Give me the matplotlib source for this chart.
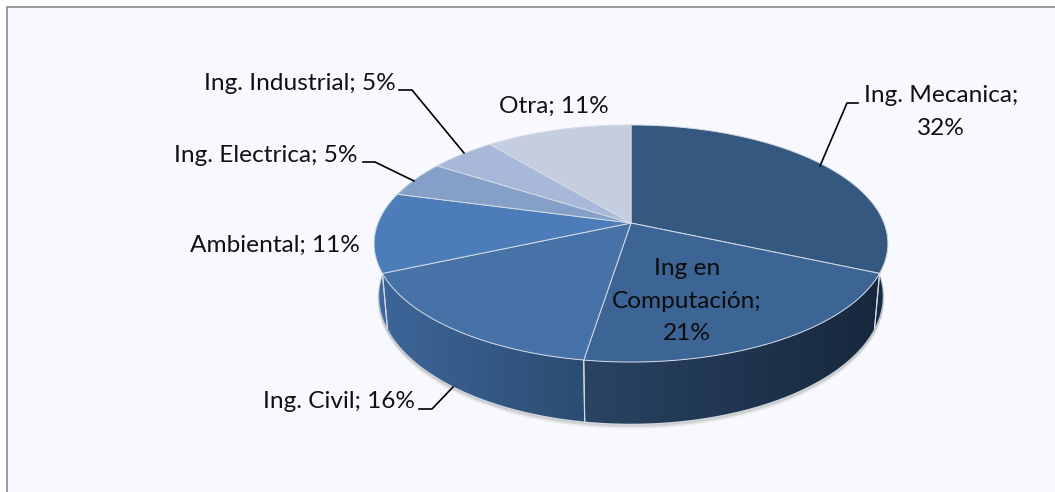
import matplotlib
matplotlib.use('Agg')
import matplotlib.pyplot as plt
import numpy as np
from matplotlib.colors import LinearSegmentedColormap
from matplotlib.patches import Polygon

labels = ['Ing. Mecanica', 'Ing en Computación', 'Ing. Civil', 'Ambiental',
          'Ing. Electrica', 'Ing. Industrial', 'Otra']
values = [32, 21, 16, 11, 5, 5, 11]
top_colors = ['#34587f', '#3c6596', '#4672a8', '#4c7db8', '#84a0c8', '#a8b8d8', '#c5cee0']
# colores de la pared lateral, izquierda -> derecha
wall_colors = [('#14263a', '#1b3048'), ('#2a4464', '#16283c'), ('#3d6699', '#2c4c72'),
               ('#3f6ba1', '#3d6699'), None, None, None]

# geometria de la torta en pixeles
CX, CY = 631, 223
A, B, P = 253, 115, 0.173
DEPTH = 51
SHRINK = 0.98
BG = '#f8f9fe'
EDGE = '#d3dae5'


def top_point(t):
    u, v = np.sin(t), np.cos(t)
    s = 1 / (1 + P * v)
    return CX + A * u * s, CY - B * v * s


def bottom_point(t):
    u, v = np.sin(t), np.cos(t)
    s = 1 / (1 + P * v)
    return CX + A * u * s * SHRINK, CY - B * v * s + DEPTH * s


def arc(func, t0, t1):
    t = np.linspace(t0, t1, 120)
    x, y = func(t)
    return np.column_stack([x, y])


def draw_wall(ax, t0, t1, colors):
    top = arc(top_point, t0, t1)
    bottom = arc(bottom_point, t0, t1)
    poly = np.vstack([top, bottom[::-1]])
    patch = Polygon(poly, closed=True, fc='none', ec='none', zorder=2)
    ax.add_patch(patch)
    x0, x1 = poly[:, 0].min(), poly[:, 0].max()
    y0, y1 = poly[:, 1].min(), poly[:, 1].max()
    cmap = LinearSegmentedColormap.from_list('wall', colors)
    im = ax.imshow(np.linspace(0, 1, 256).reshape(1, -1), cmap=cmap, aspect='auto',
                   extent=(x0, x1, y1, y0), zorder=2)
    im.set_clip_path(patch)


def main():
    fig = plt.figure(figsize=(10.55, 4.92), dpi=100, facecolor='white')
    ax = fig.add_axes([0, 0, 1, 1])
    ax.axis('off')

    # marco del grafico
    ax.add_patch(plt.Rectangle((6.5, 6.5), 1060, 500, fc=BG, ec='#8c8c8c', lw=1.2, zorder=0))

    # sombra suave debajo de la torta
    t_all = np.linspace(np.pi * 0.45, np.pi * 1.55, 200)
    for off, alpha in zip([4, 3, 2, 1], [0.05, 0.08, 0.12, 0.18]):
        x, y = bottom_point(t_all)
        ax.plot(x, y + off, color='#707070', alpha=alpha, lw=2, zorder=1)

    edges = np.cumsum([0] + values) / sum(values) * 2 * np.pi

    # paredes laterales
    for i, colors in enumerate(wall_colors):
        if colors is not None:
            t0 = max(edges[i], np.pi * 0.44)
            t1 = min(edges[i + 1], np.pi * 1.56)
            draw_wall(ax, t0, t1, colors)
            for t in (edges[i], edges[i + 1]):
                if np.pi * 0.5 < t < np.pi * 1.5:
                    xa, ya = top_point(t)
                    xb, yb = bottom_point(t)
                    ax.plot([xa, xb], [ya, yb], color=EDGE, lw=0.8, zorder=3)

    # cara superior
    for i in range(len(values)):
        pts = np.vstack([[CX, CY], arc(top_point, edges[i], edges[i + 1])])
        ax.add_patch(Polygon(pts, closed=True, fc=top_colors[i], ec=EDGE, lw=0.7, zorder=4,
                             joinstyle='round'))

    # etiquetas
    fs = 17.6
    fam = ['Lato', 'DejaVu Sans']
    ax.text(941, 112, f'{labels[0]};\n{values[0]}%', ha='center', va='center', fontsize=fs,
            family=fam, color='#111111', linespacing=1.68, zorder=6)
    ax.text(687, 301, f'Ing en\nComputación;\n{values[1]}%', ha='center', va='center', fontsize=fs,
            family=fam, color='#0c0c0c', linespacing=1.68, zorder=6)
    ax.text(415, 401, f'{labels[2]}; {values[2]}%', ha='right', va='center', fontsize=fs,
            family=fam, color='#111111', zorder=6)
    ax.text(360, 245, f'{labels[3]}; {values[3]}%', ha='right', va='center', fontsize=fs,
            family=fam, color='#111111', zorder=6)
    ax.text(358, 155, f'{labels[4]}; {values[4]}%', ha='right', va='center', fontsize=fs,
            family=fam, color='#111111', zorder=6)
    ax.text(396, 84, f'{labels[5]}; {values[5]}%', ha='right', va='center', fontsize=fs,
            family=fam, color='#111111', zorder=6)
    ax.text(554, 106, f'{labels[6]}; {values[6]}%', ha='center', va='center', fontsize=fs,
            family=fam, color='#111111', zorder=6)

    # lineas guia
    ax.plot([858, 847, 820], [103, 103, 166], color='black', lw=1.2, zorder=5)
    ax.plot([399, 412, 464], [90, 90, 153], color='black', lw=1.2, zorder=5)
    ax.plot([363, 375, 414], [162, 162, 181], color='black', lw=1.2, zorder=5)
    ax.plot([419, 432, 453], [409, 409, 387], color='black', lw=1.2, zorder=5)

    ax.set_xlim(0, 1055)
    ax.set_ylim(492, 0)
    fig.savefig('out.png', dpi=100, facecolor='white')


if __name__ == '__main__':
    main()
